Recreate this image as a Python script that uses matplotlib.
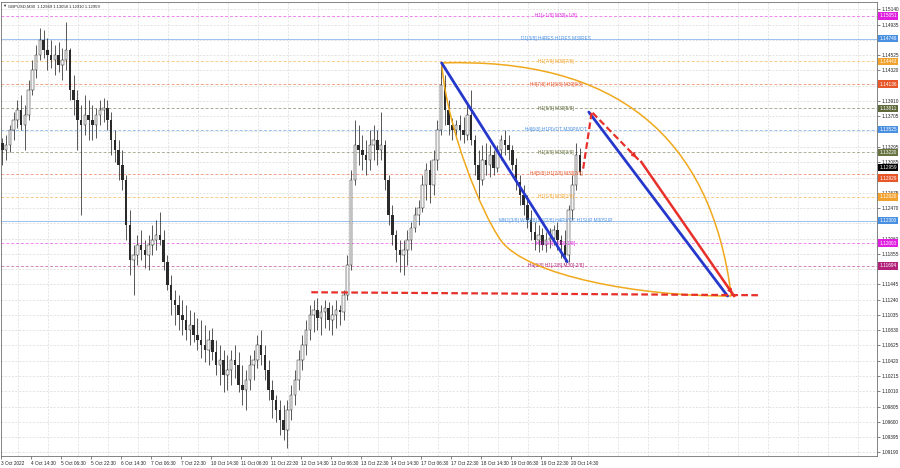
import numpy as np
import matplotlib.pyplot as plt
from matplotlib.path import Path
from matplotlib.patches import PathPatch

plt.rcParams['font.family'] = ['Liberation Sans', 'DejaVu Sans']

# GBPUSD M30, grouped in blocks of 4 bars (2h)
highs = [1.1341, 1.1345, 1.1359, 1.1376, 1.1392, 1.1399, 1.1386, 1.1419, 1.1446, 1.1466,
         1.1489, 1.1486, 1.1475, 1.1473, 1.1466, 1.1470, 1.1462, 1.1497, 1.1462, 1.1426,
         1.1406, 1.1386, 1.1399, 1.1392, 1.1386, 1.1381, 1.1392, 1.1395, 1.1392, 1.1376,
         1.1352, 1.1339, 1.1325, 1.1291, 1.1245, 1.1197, 1.1211, 1.1218, 1.1204, 1.1211,
         1.1224, 1.1231, 1.1242, 1.1218, 1.1184, 1.1157, 1.1137, 1.1130, 1.1124, 1.1117,
         1.1110, 1.1108, 1.1099, 1.1097, 1.1090, 1.1083, 1.1086, 1.1070, 1.1063, 1.1057,
         1.1050, 1.1057, 1.1063, 1.1054, 1.1036, 1.1030, 1.1050, 1.1057, 1.1077, 1.1083,
         1.1063, 1.1043, 1.1016, 1.0996, 1.0989, 1.0983, 1.0989, 1.1009, 1.1030, 1.1057,
         1.1077, 1.1097, 1.1117, 1.1124, 1.1126, 1.1117, 1.1124, 1.1121, 1.1117, 1.1124,
         1.1117, 1.1137, 1.1184, 1.1298, 1.1365, 1.1359, 1.1345, 1.1339, 1.1352, 1.1359,
         1.1352, 1.1376, 1.1339, 1.1291, 1.1251, 1.1218, 1.1204, 1.1204, 1.1218, 1.1228,
         1.1248, 1.1258, 1.1291, 1.1307, 1.1312, 1.1325, 1.1365, 1.1442, 1.1426, 1.1392,
         1.1368, 1.1365, 1.1372, 1.1369, 1.1386, 1.1406, 1.1345, 1.1325, 1.1332, 1.1334,
         1.1332, 1.1325, 1.1332, 1.1345, 1.1352, 1.1345, 1.1332, 1.1314, 1.1291, 1.1278,
         1.1265, 1.1245, 1.1228, 1.1224, 1.1220, 1.1215, 1.1220, 1.1224, 1.1228, 1.1211,
         1.1218, 1.1251, 1.1291, 1.1334, 1.1328]
lows = [1.1305, 1.1312, 1.1322, 1.1339, 1.1355, 1.1352, 1.1325, 1.1365, 1.1399, 1.1422,
        1.1446, 1.1448, 1.1433, 1.1435, 1.1426, 1.1430, 1.1419, 1.1433, 1.1392, 1.1372,
        1.1325, 1.1238, 1.1345, 1.1339, 1.1339, 1.1341, 1.1359, 1.1363, 1.1352, 1.1318,
        1.1309, 1.1285, 1.1271, 1.1204, 1.1157, 1.1130, 1.1171, 1.1177, 1.1167, 1.1164,
        1.1184, 1.1191, 1.1197, 1.1164, 1.1137, 1.1103, 1.1090, 1.1083, 1.1077, 1.1070,
        1.1063, 1.1067, 1.1057, 1.1046, 1.1040, 1.1036, 1.1043, 1.1023, 1.1009, 1.1000,
        1.1003, 1.1009, 1.1019, 1.1000, 1.0983, 1.0976, 1.1003, 1.1016, 1.1032, 1.1036,
        1.1016, 1.0989, 1.0965, 1.0960, 1.0942, 1.0936, 1.0925, 1.0962, 1.0983, 1.1003,
        1.1030, 1.1050, 1.1070, 1.1081, 1.1083, 1.1077, 1.1086, 1.1083, 1.1077, 1.1086,
        1.1090, 1.1097, 1.1124, 1.1164, 1.1278, 1.1305, 1.1298, 1.1291, 1.1298, 1.1312,
        1.1305, 1.1312, 1.1271, 1.1224, 1.1197, 1.1175, 1.1161, 1.1157, 1.1171, 1.1191,
        1.1215, 1.1224, 1.1242, 1.1258, 1.1254, 1.1265, 1.1298, 1.1345, 1.1359, 1.1345,
        1.1339, 1.1341, 1.1339, 1.1334, 1.1339, 1.1332, 1.1291, 1.1258, 1.1278, 1.1291,
        1.1289, 1.1291, 1.1295, 1.1312, 1.1318, 1.1312, 1.1298, 1.1271, 1.1251, 1.1238,
        1.1220, 1.1204, 1.1191, 1.1188, 1.1191, 1.1188, 1.1193, 1.1197, 1.1191, 1.1180,
        1.1175, 1.1175, 1.1231, 1.1271, 1.1291]
closes = [1.1325, 1.1332, 1.1352, 1.1365, 1.1379, 1.1359, 1.1372, 1.1406, 1.1433, 1.1453,
          1.1473, 1.1459, 1.1453, 1.1446, 1.1453, 1.1439, 1.1446, 1.1459, 1.1406, 1.1392,
          1.1365, 1.1359, 1.1372, 1.1365, 1.1359, 1.1372, 1.1379, 1.1381, 1.1365, 1.1339,
          1.1325, 1.1305, 1.1285, 1.1224, 1.1177, 1.1184, 1.1197, 1.1191, 1.1184, 1.1197,
          1.1204, 1.1211, 1.1204, 1.1175, 1.1144, 1.1124, 1.1117, 1.1103, 1.1097, 1.1083,
          1.1090, 1.1077, 1.1070, 1.1063, 1.1057, 1.1070, 1.1054, 1.1036, 1.1043, 1.1023,
          1.1030, 1.1043, 1.1036, 1.1009, 1.1003, 1.1016, 1.1036, 1.1043, 1.1063, 1.1050,
          1.1030, 1.1003, 1.0989, 1.0976, 1.0962, 1.0949, 1.0976, 1.0996, 1.1016, 1.1043,
          1.1063, 1.1083, 1.1103, 1.1110, 1.1099, 1.1108, 1.1113, 1.1097, 1.1103, 1.1110,
          1.1108, 1.1130, 1.1171, 1.1285, 1.1332, 1.1325, 1.1318, 1.1312, 1.1332, 1.1339,
          1.1325, 1.1332, 1.1285, 1.1238, 1.1211, 1.1191, 1.1184, 1.1191, 1.1204, 1.1220,
          1.1238, 1.1247, 1.1278, 1.1298, 1.1278, 1.1312, 1.1352, 1.1412, 1.1379, 1.1359,
          1.1352, 1.1359, 1.1352, 1.1345, 1.1372, 1.1339, 1.1305, 1.1285, 1.1312, 1.1305,
          1.1318, 1.1301, 1.1325, 1.1339, 1.1332, 1.1325, 1.1305, 1.1282, 1.1265, 1.1251,
          1.1231, 1.1215, 1.1204, 1.1211, 1.1197, 1.1204, 1.1207, 1.1218, 1.1204, 1.1197,
          1.1184, 1.1245, 1.1278, 1.1318, 1.12959]
first_open = 1.1335

time_labels = ['3 Oct 2022', '4 Oct 14:30', '5 Oct 06:30', '5 Oct 22:30', '6 Oct 14:30',
               '7 Oct 06:30', '7 Oct 22:30', '10 Oct 14:30', '11 Oct 06:30', '11 Oct 22:30',
               '12 Oct 14:30', '13 Oct 06:30', '13 Oct 22:30', '14 Oct 14:30', '17 Oct 06:30',
               '17 Oct 22:30', '18 Oct 14:30', '19 Oct 06:30', '19 Oct 22:30', '20 Oct 14:30']

price_ticks = [1.15140, 1.14935, 1.14730, 1.14525, 1.14320, 1.14115, 1.13910, 1.13705,
               1.13500, 1.13295, 1.13085, 1.12880, 1.12675, 1.12470, 1.12265, 1.12060,
               1.11855, 1.11650, 1.11445, 1.11240, 1.11035, 1.10830, 1.10625, 1.10420,
               1.10215, 1.10010, 1.09805, 1.09600, 1.09395, 1.09190]
hidden_ticks = [1.14730, 1.14115, 1.13500, 1.12880, 1.12265, 1.11650]

# Murrey math levels
level_prices = [1.15051, 1.14746, 1.14443, 1.14136, 1.13811, 1.13525,
                1.13220, 1.12929, 1.12620, 1.12300, 1.12000, 1.11694]
level_names = ['H1[+1/8] M30[+1/8]', 'D1[3/8] H4RES H1RES M30RES', 'H1[7/8] M30[7/8]',
               'H4[7/8] H1[6/8] M30[6/8]', 'H1[5/8] M30[5/8]', 'H4[6/8] H1PIVOT M30PIVOT',
               'H1[3/8] M30[3/8]', 'H4[5/8] H1[2/8] M30[2/8]', 'H1[1/8] M30[1/8]',
               'MN1[3/8] W1[3/8] D1[2/8] H4PIVOT H1SUP M30SUP', 'H1[-1/8] M30[-1/8]',
               'H4[3/8] H1[-2/8] M30[-2/8]']
level_colors = ['#e01fe0', '#4a90e2', '#f2a22c', '#e8572a', '#5e6a3c', '#4a90e2',
                '#66743f', '#e8572a', '#f2a22c', '#4a90e2', '#e01fe0', '#b3227a']
level_solid = [False, True, False, False, False, False,
               False, False, False, True, False, False]
bid_price = 1.12959

# drawing objects (bar index, price)
arc_top = [(470, 1.1442), (747, 1.1453), (779, 1.1129)]
arc_bottom = [(470, 1.1442), (476, 1.1352), (512, 1.1242), (533, 1.1204),
              (560, 1.1156), (683, 1.1128), (779, 1.1129)]
blue_lines = [[(470, 1.1442), (604, 1.1175)], [(627, 1.1376), (775, 1.1129)]]
red_dashed = [[(621, 1.1300), (630, 1.1375)], [(631, 1.1375), (680, 1.1312)],
              [(331, 1.1134), (809, 1.1130)]]
red_solid = [(683, 1.1309), (782, 1.1129)]

fig = plt.figure(figsize=(9, 4.68), dpi=100)
ax = fig.add_axes([0.0011, 12 / 468, 876 / 900, 454 / 468])
ax.set_xlim(0, 934.4)
ax.set_ylim(1.09141, 1.15238)

# grid
ax.set_yticks(price_ticks)
ax.set_yticklabels(['' if p in hidden_ticks else f'{p:.5f}' for p in price_ticks])
ax.yaxis.tick_right()
ax.set_xticks(np.arange(len(time_labels)) * 32)
ax.set_xticklabels(time_labels)
for lbl in ax.get_xticklabels():
    lbl.set_ha('left')
ax.set_xticks(np.arange(18, 934, 32), minor=True)
ax.tick_params(axis='both', labelsize=3.4, length=2, width=0.4, pad=1.5, colors='#222222')
ax.tick_params(axis='x', which='minor', length=0)
ax.grid(axis='y', which='major', color='#d9d9d9', lw=0.5, ls=(0, (3, 2)))
ax.grid(axis='x', which='minor', color='#dcdcdc', lw=0.5, ls=(0, (3, 2)))
for s in ax.spines.values():
    s.set_color('#707070')
    s.set_linewidth(0.6)

# candles
closes = np.array(closes)
x = np.arange(len(closes)) * 4 + 1.5
opens = np.r_[first_open, closes[:-1]]
lo = np.minimum(np.array(lows), np.minimum(opens, closes))
hi = np.maximum(np.array(highs), np.maximum(opens, closes))
up = closes >= opens
ax.vlines(x, lo, hi, color='#2a2a2a', lw=0.55, zorder=3)
ax.bar(x[up], (closes - opens)[up], bottom=opens[up], width=2.5,
       facecolor='#f4f4f4', edgecolor='#2a2a2a', lw=0.35, zorder=4)
ax.bar(x[~up], (closes - opens)[~up], bottom=opens[~up], width=2.5,
       color='#2a2a2a', lw=0, zorder=4)

# levels
box_shift = {1.12929: -3.0}
for price, name, col, solid in zip(level_prices, level_names, level_colors, level_solid):
    ax.axhline(price, color=col, lw=0.7, alpha=0.55,
               ls='-' if solid else (0, (3, 2)), zorder=2)
    ax.text(592, price, name, color=col, fontsize=3.4, ha='center', va='center', zorder=6)
    ax.annotate(f'{price:.5f}', xy=(1.003, price), xycoords=ax.get_yaxis_transform(),
                xytext=(0, box_shift.get(price, 0)), textcoords='offset points',
                fontsize=3.4, color='white', ha='left', va='center', annotation_clip=False,
                zorder=10, bbox=dict(boxstyle='square,pad=0.25', fc=col, ec='none'))
ax.annotate(f'{bid_price:.5f}', xy=(1.003, bid_price), xycoords=ax.get_yaxis_transform(),
            xytext=(0, 3.0), textcoords='offset points',
            fontsize=3.4, color='white', ha='left', va='center', annotation_clip=False,
            zorder=11, bbox=dict(boxstyle='square,pad=0.25', fc='black', ec='none'))

# arcs
orange = '#f0a81c'
ax.add_patch(PathPatch(Path(arc_top, [Path.MOVETO, Path.CURVE3, Path.CURVE3]),
                       fc='none', ec=orange, lw=1.1, zorder=7))
ax.add_patch(PathPatch(Path(arc_bottom, [Path.MOVETO] + [Path.CURVE4] * 6),
                       fc='none', ec=orange, lw=1.1, zorder=7))

# trend lines
for seg in blue_lines:
    ax.plot(*zip(*seg), color='#2638cc', lw=2.0, zorder=8, solid_capstyle='round')
red = '#e8302a'
for seg in red_dashed:
    ax.plot(*zip(*seg), color=red, lw=1.6, ls=(0, (3, 1.5)), zorder=8)
ax.plot(*zip(*red_solid), color=red, lw=1.8, zorder=8)
for (x0, y0), (x1, y1) in [red_dashed[1], red_solid]:
    ax.annotate('', xy=(x1, y1), xytext=(x1 - 0.15 * (x1 - x0), y1 - 0.15 * (y1 - y0)),
                arrowprops=dict(arrowstyle='-|>', color=red, lw=1.2, mutation_scale=6),
                zorder=9)

fig.text(0.002, 0.991, '\u25bc', fontsize=3, va='top', color='#333333')
fig.text(0.009, 0.991, 'GBPUSD,M30  1.12949 1.13058 1.12910 1.12959',
         fontsize=3.0, va='top', color='#222222')

fig.savefig('out.png', dpi=100)
